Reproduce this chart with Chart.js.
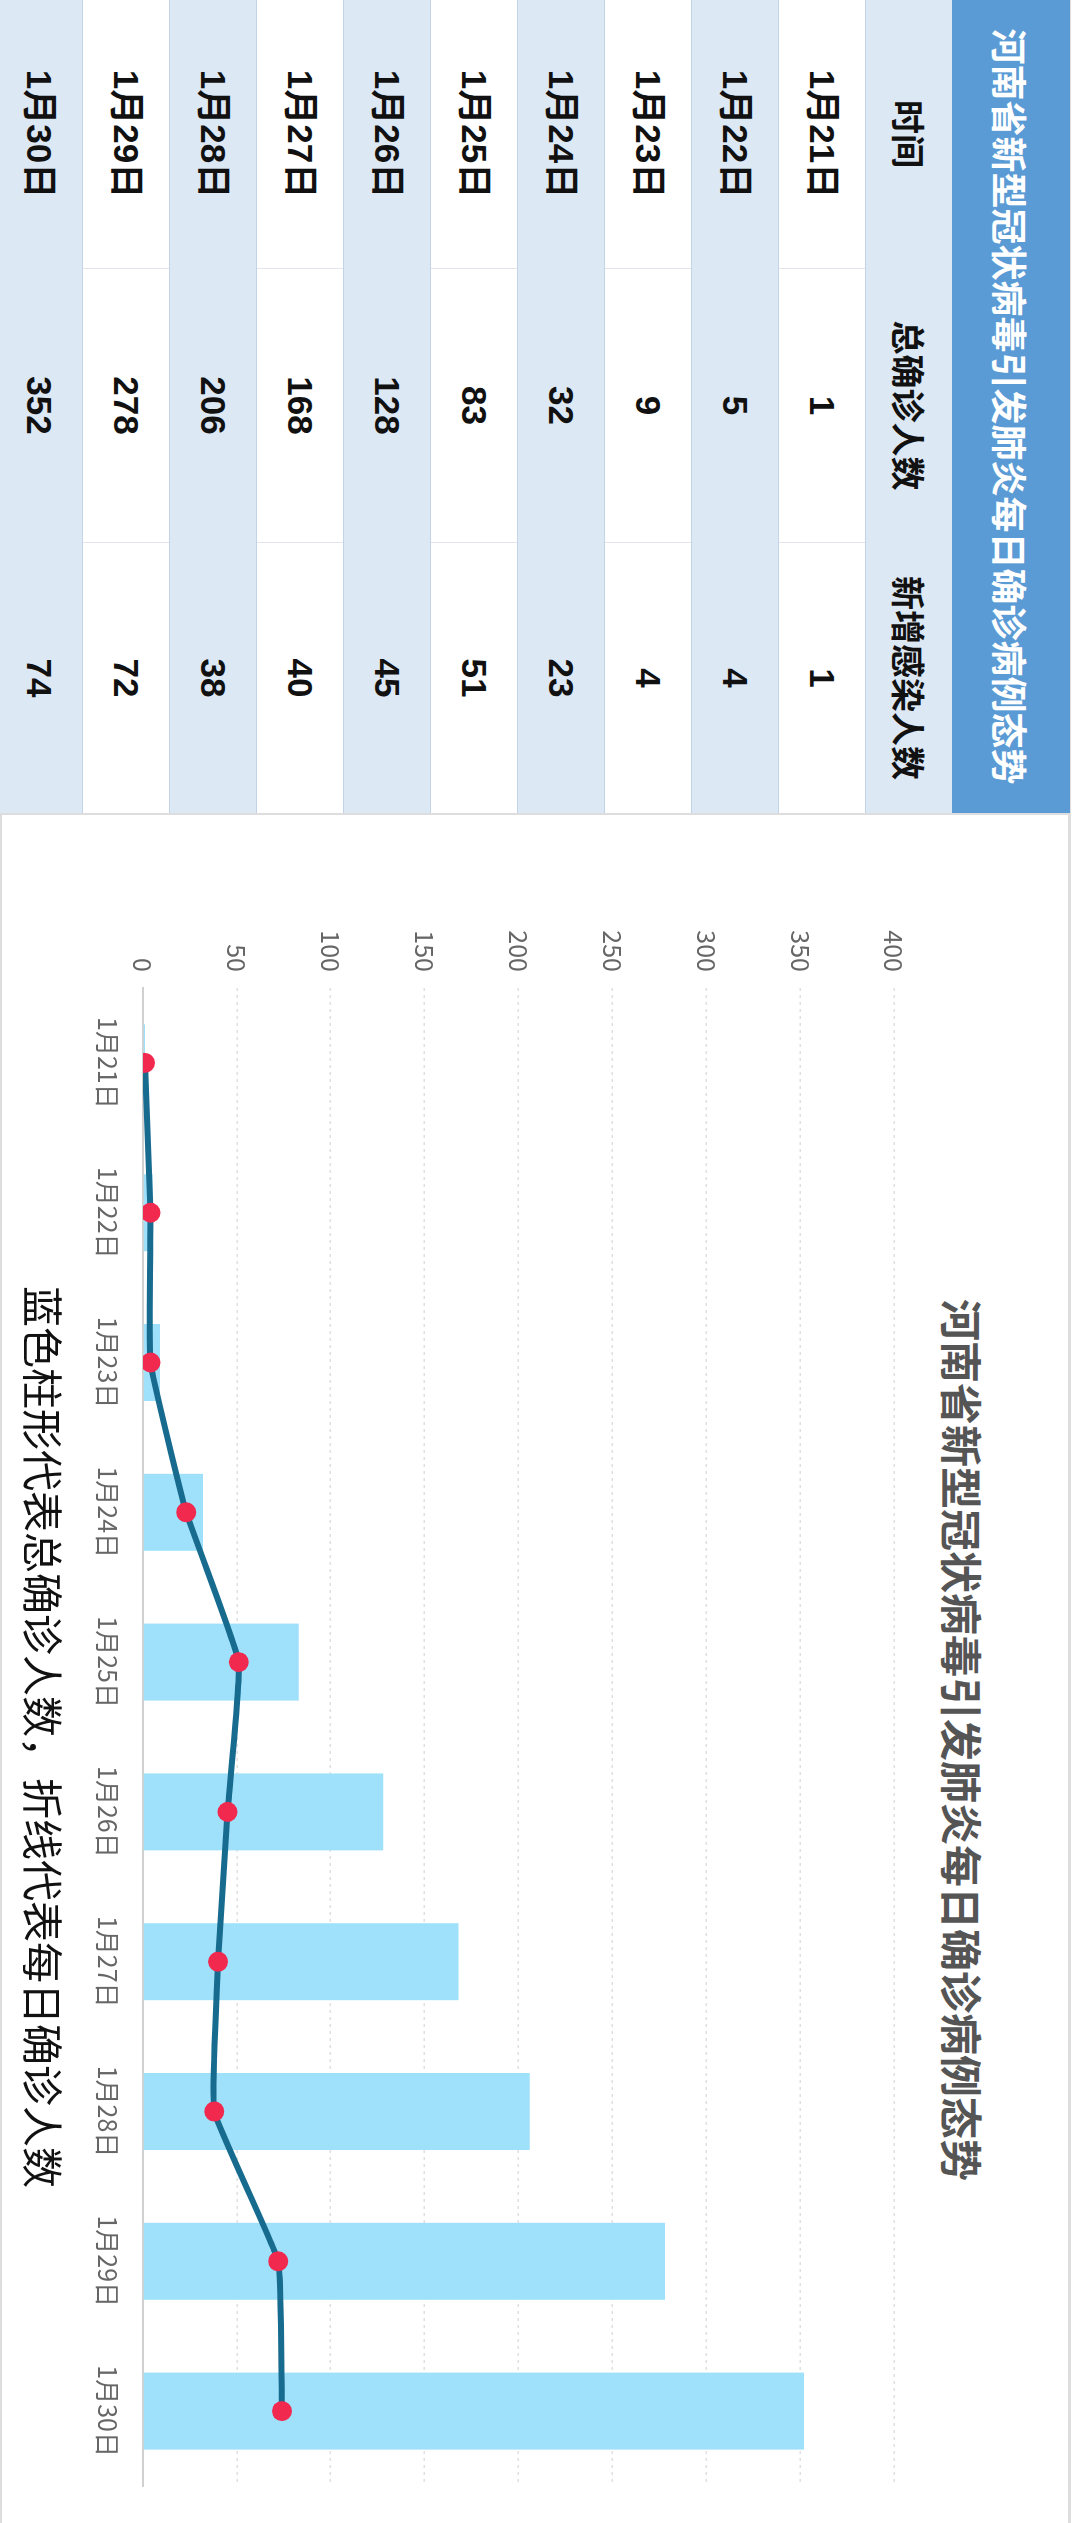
<!DOCTYPE html>
<html>
<head>
<meta charset="utf-8">
<script src="https://cdn.jsdelivr.net/npm/chart.js@4.4.0/dist/chart.umd.min.js"></script>
<style>
html, body { margin: 0; padding: 0; background: #fff; width: 1080px; height: 2523px; overflow: hidden; }
/* the whole picture is turned a quarter turn clockwise */
#page {
    position: absolute; left: 0; top: 0;
    width: 2523px; height: 1080px;
    transform-origin: 0 0;
    transform: translateX(1080px) rotate(90deg);
    background: #fff;
    overflow: hidden;
    font-family: "Liberation Sans", "Noto Sans CJK SC", sans-serif;
}
#frameLine { position: absolute; left: 0; top: 9px; width: 2523px; height: 1px; background: #ddd; }
#table { position: absolute; left: 0; top: 10px; width: 813px; }
.titlebar {
    height: 118px; line-height: 118px; background: #5b9bd5; color: #fff;
    font-family: "Noto Sans CJK SC", sans-serif; font-weight: bold; font-size: 36px;
    text-align: center;
}
.row { display: flex; height: 87px; box-sizing: border-box; border-bottom: 1px solid #c3d3e8; }
.row.blue { background: #dde8f5; }
.row div { line-height: 86px; text-align: center; font-size: 35px; font-weight: bold; color: #111; box-sizing: border-box; }
.row.white div + div { border-left: 1px solid #e2e6ec; }
.row.blue div + div { border-left: 1px solid #dde8f5; }
.c1 { width: 268px; } .c2 { width: 274px; } .c3 { width: 271px; }
.head div { font-family: "Noto Sans CJK SC", sans-serif; font-size: 34px; }
#box {
    position: absolute; left: 813px; top: 10px; width: 1710px; height: 1070px;
    box-sizing: border-box; border: 2px solid #ddd; border-right: none;
}
#chartTitle {
    position: absolute; left: 1740px; top: 87px; transform: translateX(-50%);
    white-space: nowrap; line-height: 60px;
    font-family: "Noto Sans CJK SC", sans-serif; font-weight: bold; font-size: 42px; color: #555;
}
#caption {
    position: absolute; left: 1737px; top: 1010px; transform: translateX(-50%);
    white-space: nowrap; line-height: 50px;
    font-family: "Noto Sans CJK SC", sans-serif; font-size: 41px; color: #111;
}
#trendChart { position: absolute; left: 813px; top: 130px; }
</style>
</head>
<body>
<div id="page">
    <div id="frameLine"></div>
    <div id="table">
        <div class="titlebar">河南省新型冠状病毒引发肺炎每日确诊病例态势</div>
        <div class="row blue head"><div class="c1">时间</div><div class="c2">总确诊人数</div><div class="c3">新增感染人数</div></div>
        <div id="rows"></div>
    </div>
    <div id="box"></div>
    <div id="chartTitle">河南省新型冠状病毒引发肺炎每日确诊病例态势</div>
    <canvas id="trendChart" width="1710" height="880"></canvas>
    <div id="caption">蓝色柱形代表总确诊人数，折线代表每日确诊人数</div>
</div>
<script>
var days = ['1月21日', '1月22日', '1月23日', '1月24日', '1月25日', '1月26日', '1月27日', '1月28日', '1月29日', '1月30日'];
var totalCases = [1, 5, 9, 32, 83, 128, 168, 206, 278, 352];
var newCases = [1, 4, 4, 23, 51, 45, 40, 38, 72, 74];
var yMax = 400;
var yStep = 50;

var tickFont = { family: '"Noto Sans CJK SC", sans-serif', size: 25 };

// table rows, same numbers as the chart
var rows = document.getElementById('rows');
days.forEach(function(d, i) {
    var row = document.createElement('div');
    row.className = 'row ' + (i % 2 === 0 ? 'white' : 'blue');
    row.innerHTML = '<div class="c1">' + d + '</div>' +
        '<div class="c2">' + totalCases[i] + '</div>' +
        '<div class="c3">' + newCases[i] + '</div>';
    rows.appendChild(row);
});

var ctx = document.getElementById('trendChart').getContext('2d');

var myChart = new Chart(ctx, {
    type: 'bar',
    data: {
        labels: days,
        datasets: [
            {
                type: 'line',
                label: '每日确诊人数',
                data: newCases,
                borderColor: '#176b8f',
                borderWidth: 6,
                tension: 0.1,
                pointRadius: 10,
                pointBackgroundColor: '#f1294f',
                pointBorderWidth: 0,
                order: 0
            },
            {
                label: '总确诊人数',
                data: totalCases,
                backgroundColor: '#9fe1fb',
                barPercentage: 0.514,
                categoryPercentage: 1,
                order: 1
            }
        ]
    },
    options: {
        responsive: false,
        animation: false,
        layout: { padding: { top: 56, right: 37, left: 0, bottom: 0 } },
        plugins: {
            legend: { display: false },
            tooltip: { enabled: false }
        },
        scales: {
            x: {
                grid: { display: false, drawTicks: false },
                border: { display: true, color: '#d0d0d0', width: 2 },
                ticks: { font: tickFont, color: '#666', padding: 20, maxRotation: 0, autoSkip: false },
                afterFit: function(s) { s.height = 73; }
            },
            y: {
                min: 0,
                max: yMax,
                ticks: { stepSize: yStep, font: tickFont, color: '#666', padding: 16 },
                grid: { color: '#e0e0e0', lineWidth: 1.5, drawTicks: false },
                border: { display: false, dash: [3, 4] },
                afterFit: function(s) { s.width = 175; }
            }
        }
    }
});
</script>
</body>
</html>
